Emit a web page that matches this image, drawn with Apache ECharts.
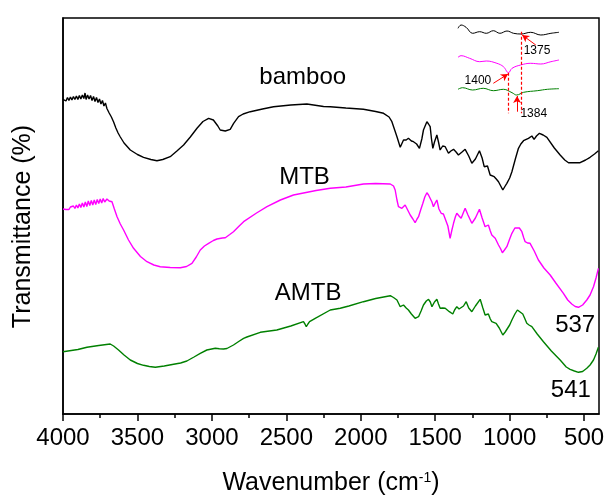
<!DOCTYPE html>
<html>
<head>
<meta charset="utf-8">
<script src="https://cdn.jsdelivr.net/npm/echarts@6/dist/echarts.min.js"></script>
<style>
html,body{margin:0;padding:0;background:#fff;}
#chart{width:606px;height:496px;}
</style>
</head>
<body>
<div id="chart"></div>
<script>
// x-axis tick labels (wavenumber, cm-1)
const majorTicks = [500, 1000, 1500, 2000, 2500, 3000, 3500, 4000];
const minorTicks = [750, 1250, 1750, 2250, 2750, 3250, 3750];

// Spectra: [wavenumber, offset transmittance (arb. units)]
const bamboo = [
[4000,314.7],[3990,316],[3980,313],[3970,316.5],[3960,313.5],[3950,317],[3940,314],[3930,317.5],[3920,314.5],[3910,318],
[3900,314.5],[3890,318.5],[3880,315],[3870,319],[3860,315.5],[3852,321],[3845,314.5],[3835,319],[3825,315],[3815,318.5],
[3805,313.5],[3795,317.5],[3785,312.5],[3775,316.5],[3765,311.5],[3755,315],[3745,310],[3735,313.5],[3725,308],[3715,311],
[3705,305.5],[3690,301],[3675,297],
[3660,292],[3645,286],[3630,281],[3615,277],[3590,271],[3548,264],[3500,259.5],[3459,256.7],[3410,254.5],[3369,253.3],
[3330,254.5],[3280,257.3],[3235,263],[3190,269],[3145,277],[3100,285.7],[3060,292.5],[3022,295.7],[2990,294],[2977,292.3],
[2960,288],[2944,284],[2910,283],[2877,284.7],[2854,290.7],[2821,297.3],[2790,300],[2742,302.3],[2660,305],[2586,307.3],
[2470,309],[2362,310],[2250,307.5],[2205,307.3],[2100,306],[1982,304.7],[1900,302.5],[1847,300.7],[1810,297],[1791,292.3],
[1770,283],[1757,277.3],[1735,266.7],[1713,274],[1695,274],[1680,275.7],[1660,273],[1646,272.3],[1625,270],[1606,265.7],
[1590,275],[1579,284],[1556,292.3],[1545,290],[1534,287.3],[1525,275],[1516,265.7],[1505,272],[1489,279],[1478,272],
[1467,264],[1450,268],[1433,267.3],[1411,260.7],[1395,263],[1377,264.7],[1360,262],[1344,259],[1320,262],[1299,264.7],
[1275,258],[1254,250.7],[1230,255],[1203,263.3],[1185,256],[1171,247.3],[1160,249],[1149,248],[1131,239],[1104,237.3],
[1090,235],[1075,232.3],[1060,228],[1046,224],[1030,228],[1019,230.7],[1000,236],[985,242.3],[960,256],[941,265.7],
[925,270],[907,273.3],[874,275.7],[851,278],[836,274.7],[820,278],[800,280.7],[775,279],[750,276.7],[700,266],
[661,259],[630,254],[605,251.3],[570,251.3],[527,251.3],[490,254],[460,256.7],[430,260],[404,263.3]
];
const mtb = [
[4000,205],[3990,206],[3980,204.5],[3970,206.5],[3960,204.5],[3950,207],[3940,205],[3930,208],[3920,205.5],[3910,209],
[3900,206],[3890,210],[3880,206.5],[3870,211],[3860,207],[3850,212],[3840,207.5],[3830,213],[3820,208.5],[3810,213.5],
[3800,209],[3790,214],[3780,209.5],[3770,214.5],[3760,210.5],[3750,215],[3740,211],[3730,215.5],[3720,212],[3705,215],
[3690,213],[3671,212.3],
[3655,205],[3637,197.3],[3615,190],[3593,184],[3560,174],[3526,165.7],[3480,157.5],[3436,152.3],[3390,149],[3347,147.3],
[3280,146.5],[3212,146.3],[3170,147.5],[3134,150.7],[3105,157],[3078,164],[3050,168],[3022,170.7],[2990,173.5],[2966,175],
[2930,176],[2910,176.3],[2880,179.5],[2855,182.3],[2820,187.5],[2787,192.3],[2700,201],[2630,207.3],[2540,214],[2452,219],
[2300,223.5],[2205,225.7],[2100,227],[1982,230],[1900,230.5],[1802,230],[1780,228],[1769,224],[1757,214],[1747,207.3],
[1735,206],[1724,205.7],[1713,207],[1702,209],[1685,204],[1668,199],[1650,195],[1635,191.3],[1622,195],[1612,197.3],
[1598,204],[1583,210.7],[1570,217],[1556,221.3],[1545,219],[1534,219],[1522,212],[1512,207.3],[1500,211],[1489,214],
[1475,205],[1460,200.7],[1445,200],[1433,199],[1415,188],[1400,175.7],[1388,184],[1377,190.7],[1365,197],[1355,200.7],
[1340,198],[1326,195.7],[1312,201],[1299,205.7],[1280,199],[1254,190.7],[1230,196],[1203,204.7],[1185,196],[1165,187.3],
[1155,188],[1143,189],[1130,183],[1120,179],[1097,175.7],[1075,169],[1060,165],[1049,161.3],[1035,164],[1019,167.3],
[1000,175],[985,180.7],[965,186],[952,187.3],[935,186],[918,182.3],[905,176],[896,172.3],[880,171],[863,170.7],
[835,163],[807,154],[770,146],[728,139],[690,131],[639,120.7],[610,114],[583,110],[560,107.5],[538,106.7],
[510,109],[482,114],[460,119],[437,127.3],[420,136],[404,145.7]
];
const amtb = [
[4000,62.3],[3900,64.5],[3839,66.7],[3760,68.5],[3683,70],[3660,68],[3627,64],[3590,59],[3548,54],[3500,50.5],
[3459,48.7],[3420,47.5],[3380,46.7],[3320,48],[3257,49.7],[3210,51],[3168,53],[3120,57],[3078,60.7],[3034,64],
[2977,65.7],[2950,65.2],[2922,65],[2899,65.5],[2855,69],[2820,72.5],[2787,75.7],[2765,77],[2675,81.7],[2564,84],
[2470,88],[2385,92.3],[2375,90],[2366,87.3],[2355,90],[2344,92.3],[2306,95.7],[2205,104],[2138,105.7],[2080,108],
[1982,112.3],[1900,115.5],[1802,118.3],[1780,116.5],[1757,114],[1735,107.3],[1713,109],[1695,106],[1680,104],[1660,100],
[1635,95.7],[1612,97.3],[1595,103],[1579,109],[1560,113],[1545,114.7],[1533,112],[1522,107.3],[1505,112],[1489,114.7],
[1478,110],[1467,105.7],[1450,106],[1433,105.7],[1420,104],[1405,102.3],[1382,100],[1370,104],[1355,107.3],[1340,105],
[1328,103.3],[1310,108],[1292,112.3],[1275,106],[1254,102.3],[1230,108],[1198,114.7],[1180,106],[1165,99],[1155,99.5],
[1143,100],[1130,95],[1120,92.3],[1091,90.7],[1070,86],[1046,79],[1030,82],[1019,84],[1000,89],[985,94],
[965,100],[948,104],[930,102],[912,100],[900,96],[885,90.7],[870,89],[851,87.3],[815,80],[773,72.3],
[720,63],[661,54],[620,47],[594,44.7],[565,43],[538,41.7],[510,42.5],[482,45.7],[460,49],[437,54],
[420,60],[404,66.7]
];

// Curve labels: [wavenumber, y]
const curveLabels = [
  {name:'bamboo', value:[2390,336.3]},
  {name:'MTB', value:[2378,236.3]},
  {name:'AMTB', value:[2354,120.6]},
  {name:'537', value:[560,89]},
  {name:'541', value:[589,24]}
];

// Inset (1500-1300 cm-1 detail)
const insetBamboo = [[1500,89.7],[1494,93],[1484,90.7],[1471,84.7],[1457,86.3],[1444,84.7],[1430,87.3],[1417,84.7],[1403,87],[1390,84.7],[1375,84],[1356,85.7],[1336,83],[1316,84.7],[1300,85.7]];
const insetMTB = [[1500,60.7],[1494,62.3],[1477,59.7],[1457,56.3],[1444,57],[1423,54.7],[1410,51.3],[1400,45.3],[1393,49.7],[1376,53],[1356,54.7],[1336,54],[1316,56.3],[1300,58]];
const insetAMTB = [[1500,28.7],[1491,30.3],[1471,28],[1450,29.7],[1430,27.3],[1410,28.7],[1393,25.3],[1384,23],[1370,25.7],[1343,27.3],[1323,28.7],[1300,29.3]];
const insetNotes = [
  {name:'1375', value:[1343.6,67.4]},
  {name:'1400', value:[1460.5,37.4]},
  {name:'1384', value:[1350,4.1]}
];

const FONT = "'Liberation Sans', Arial, sans-serif";
const chart = echarts.init(document.getElementById('chart'), null, {renderer:'canvas'});

const red = '#ff0000';
const option = {
  animation:false,
  backgroundColor:'#ffffff',
  textStyle:{fontFamily:FONT},
  grid:[
    {left:63, right:7, top:18, bottom:82, show:true, borderColor:'#000', borderWidth:1.5,
     backgroundColor:'transparent', containLabel:false, outerBoundsMode:'none'},
    {left:458, width:101, top:18, height:100, show:false, containLabel:false, outerBoundsMode:'none'}
  ],
  xAxis:[
    {type:'value', gridIndex:0, min:400, max:4000, inverse:true, position:'bottom',
     axisLine:{show:true, lineStyle:{color:'#000', width:1.5}},
     axisTick:{show:true, customValues:majorTicks, length:7, inside:false, lineStyle:{color:'#000', width:1.5}},
     axisLabel:{show:true, customValues:majorTicks, fontSize:24, color:'#000', margin:12, fontFamily:FONT,
       formatter:v=>String(v)},
     splitLine:{show:false},
     name:'Wavenumber (cm{sup|-1})', nameLocation:'middle', nameGap:57,
     nameTextStyle:{fontSize:25, color:'#000', fontFamily:FONT,
       rich:{sup:{fontSize:14, color:'#000', verticalAlign:'top', fontFamily:FONT}}}
    },
    {type:'value', gridIndex:0, min:400, max:4000, inverse:true, position:'bottom', offset:0,
     axisLine:{show:false},
     axisTick:{show:true, customValues:minorTicks, length:4, inside:false, lineStyle:{color:'#000', width:1.5}},
     axisLabel:{show:false}, splitLine:{show:false}
    },
    {type:'value', gridIndex:1, min:1300, max:1500, inverse:true, show:false}
  ],
  yAxis:[
    {type:'value', gridIndex:0, min:0, max:396,
     axisLine:{show:true, lineStyle:{color:'#000', width:1.5}},
     axisTick:{show:false}, axisLabel:{show:false}, splitLine:{show:false},
     name:'Transmittance (%)', nameLocation:'middle', nameGap:27,
     nameTextStyle:{fontSize:25, color:'#000', fontFamily:FONT, padding:[0,21,0,0]}
    },
    {type:'value', gridIndex:1, min:0, max:100, show:false}
  ],
  series:[
    {type:'line', name:'bamboo', data:bamboo, xAxisIndex:0, yAxisIndex:0, symbol:'none',
     lineStyle:{color:'#000', width:1.4}, silent:true},
    {type:'line', name:'MTB', data:mtb, xAxisIndex:0, yAxisIndex:0, symbol:'none',
     lineStyle:{color:'#ff00ff', width:1.4}, silent:true},
    {type:'line', name:'AMTB', data:amtb, xAxisIndex:0, yAxisIndex:0, symbol:'none',
     lineStyle:{color:'#008000', width:1.4}, silent:true},
    {type:'scatter', data:curveLabels, xAxisIndex:0, yAxisIndex:0, symbolSize:0, silent:true,
     itemStyle:{opacity:1},
     label:{show:true, position:'inside', align:'center', verticalAlign:'middle', formatter:p=>p.name,
       fontSize:24, color:'#000', opacity:1, fontFamily:FONT}},
    // inset
    {type:'line', data:insetBamboo, xAxisIndex:2, yAxisIndex:1, symbol:'none', smooth:0.4,
     lineStyle:{color:'#000', width:1}, silent:true,
     markLine:{silent:true, symbol:['none','none'], label:{show:false},
       lineStyle:{color:red, type:[3,2], width:1.2},
       data:[
         [{coord:[1400,45.3]},{coord:[1400,4.7]}],
         [{coord:[1375,86.3]},{coord:[1375,4.7]}]
       ]}
    },
    {type:'line', data:insetMTB, xAxisIndex:2, yAxisIndex:1, symbol:'none', smooth:0.4,
     lineStyle:{color:'#ff00ff', width:1}, silent:true,
     markLine:{silent:true, symbol:['none','arrow'], symbolSize:[6,7], label:{show:false},
       lineStyle:{color:red, type:'solid', width:1},
       data:[
         [{coord:[1346,73]},{coord:[1373,83]}],
         [{coord:[1430,34.7]},{coord:[1401,44]}],
         [{coord:[1383,6.3]},{coord:[1383,22]}]
       ]}
    },
    {type:'line', data:insetAMTB, xAxisIndex:2, yAxisIndex:1, symbol:'none', smooth:0.4,
     lineStyle:{color:'#008000', width:1}, silent:true},
    {type:'scatter', data:insetNotes, xAxisIndex:2, yAxisIndex:1, symbolSize:0, silent:true,
     itemStyle:{opacity:1},
     label:{show:true, position:'inside', align:'center', verticalAlign:'middle', formatter:p=>p.name,
       fontSize:12, color:'#000', opacity:1, fontFamily:FONT}}
  ]
};
chart.setOption(option);
</script>
</body>
</html>
